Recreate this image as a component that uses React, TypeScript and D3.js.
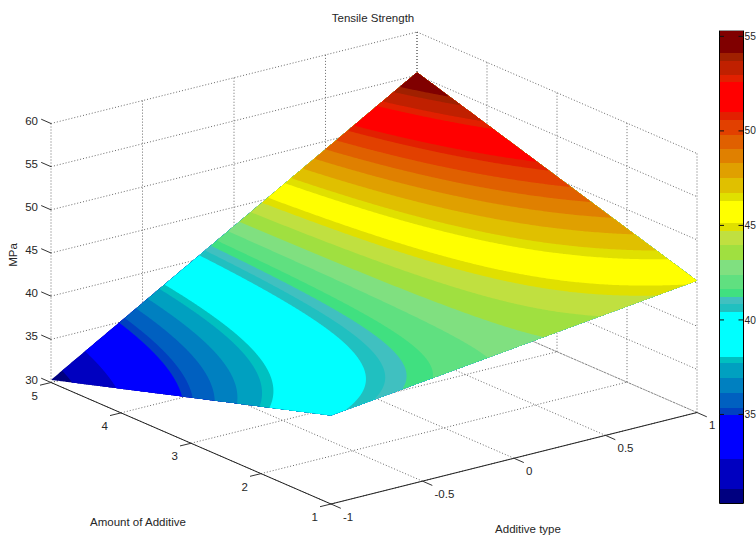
import React from 'react';
import * as d3 from 'd3';

const xTicks = [-1, -0.5, 0, 0.5, 1];
const yTicks = [1, 2, 3, 4, 5];
const zTicks = [30, 35, 40, 45, 50, 55, 60];
const barTicks = [35, 40, 45, 50, 55];

// MPa read at every tick crossing, one row per amount of additive (1..5)
const strengthAt1 = [40.25, 41.5, 42.76, 44.02, 45.27];
const strengthAt2 = [37.76, 40.27, 42.77, 45.28, 47.78];
const strengthAt3 = [35.28, 39.03, 42.79, 46.54, 50.3];
const strengthAt4 = [32.79, 37.8, 42.8, 47.81, 52.81];
const strengthAt5 = [30.3, 36.56, 42.81, 49.07, 55.32];
const strength = [strengthAt1, strengthAt2, strengthAt3, strengthAt4, strengthAt5];

// colorbar bands, low to high: bandEdges has one more entry than bandColors
const bandEdges = [
  30.3, 31.06, 32.63, 34.96, 35.34, 36.12, 36.91, 37.71, 38.06, 40.44, 40.83,
  41.22, 41.64, 42.4, 43.17, 43.95, 44.72, 45.13, 46.3, 46.72, 47.5, 48.3,
  49.06, 49.79, 50.58, 51.0, 52.58, 52.96, 53.72, 54.14, 55.3,
];
const bandColors = [
  '#000080', '#0000c0', '#0000ff', '#0040c0', '#0060c0', '#0080c0', '#00a0c0',
  '#00c0c0', '#00ffff', '#20c0c0', '#40c0c0', '#40e080', '#60e080', '#80e080',
  '#a0e040', '#c0e040', '#e0e000', '#ffff00', '#e0e000', '#e0c000', '#e0a000',
  '#e08000', '#e06000', '#e24000', '#e22000', '#ff0000', '#e22000', '#c02000',
  '#a02000', '#800000',
];

const W = 756;
const H = 536;
const FONT = '"Liberation Sans", Arial, sans-serif';
const TEXT = '#262626';

// oblique box: each axis is a screen offset from the (x=-1, y=1, z=30) corner
const origin = [331, 504];
const xOff = d3.scaleLinear<number[]>().domain([-1, 1]).range([[0, 0], [366, -91.5]]);
const yOff = d3.scaleLinear<number[]>().domain([1, 5]).range([[0, 0], [-280, -121.5]]);
const zOff = d3.scaleLinear().domain([30, 60]).range([0, -259]);

const project = (x: number, y: number, z: number) => {
  const a = xOff(x);
  const b = yOff(y);
  return [origin[0] + a[0] + b[0], origin[1] + a[1] + b[1] + zOff(z)];
};

const rowScales = strength.map((r) => d3.scaleLinear().domain(xTicks).range(r));
const valueAt = (x: number, y: number) =>
  d3.scaleLinear().domain(yTicks).range(rowScales.map((s) => s(x)))(y);

// raster for d3.contours, shading the surface between the table entries
const N = 240;
const toX = d3.scaleLinear().domain([0, N]).range([-1, 1]);
const toY = d3.scaleLinear().domain([0, N]).range([1, 5]);
const raster: number[] = [];
for (let j = 0; j < N; j++) {
  for (let i = 0; i < N; i++) raster.push(valueAt(toX(i + 0.5), toY(j + 0.5)));
}
const bands = d3.contours().size([N, N]).thresholds(bandEdges.slice(0, -1))(raster);

const surfacePath = d3.geoPath(
  d3.geoTransform({
    point(cx: number, cy: number) {
      const x = toX(cx);
      const y = toY(cy);
      const p = project(x, y, valueAt(x, y));
      this.stream.point(p[0], p[1]);
    },
  }),
);

const barY = d3.scaleLinear().domain([30.3, 55.3]).range([503.3, 30.7]);
const BAR_L = 719.5;
const BAR_R = 743.5;

const seg = (a: number[], b: number[]) => `M${a[0]},${a[1]}L${b[0]},${b[1]}`;

export default function App() {
  const grid: string[] = [];
  xTicks.forEach((x) => {
    grid.push(seg(project(x, 1, 30), project(x, 5, 30)));
    grid.push(seg(project(x, 5, 30), project(x, 5, 60)));
  });
  yTicks.forEach((y) => {
    grid.push(seg(project(-1, y, 30), project(1, y, 30)));
    grid.push(seg(project(1, y, 30), project(1, y, 60)));
  });
  zTicks.forEach((z) => {
    grid.push(seg(project(-1, 5, z), project(1, 5, z)));
    grid.push(seg(project(1, 5, z), project(1, 1, z)));
  });

  return (
    <svg
      width={W}
      height={H}
      viewBox={`0 0 ${W} ${H}`}
      style={{ position: 'fixed', left: 0, top: 0, background: '#fff' }}
      fontFamily={FONT}
      fontSize={11.5}
    >
      <path d={grid.join('')} fill="none" stroke="#444" strokeWidth={0.8} strokeDasharray="1,2" />

      {bands.map((b, i) => (
        <path key={i} d={surfacePath(b) || ''} fill={bandColors[i]} />
      ))}

      {/* axis lines */}
      <path
        d={seg(project(-1, 5, 30), project(-1, 1, 30)) + seg(project(-1, 1, 30), project(1, 1, 30))}
        fill="none"
        stroke="#222"
        strokeWidth={1}
      />

      {xTicks.map((x) => {
        const p = project(x, 1, 30);
        return (
          <g key={x}>
            <path d={seg(p, [p[0] + 9.8, p[1] + 4.3])} stroke="#333" fill="none" />
            <text x={p[0] + 12} y={p[1] + 12.5} dy="0.35em" fill={TEXT}>{x}</text>
          </g>
        );
      })}
      {yTicks.map((y) => {
        const p = project(-1, y, 30);
        return (
          <g key={y}>
            <path d={seg(p, [p[0] - 11, p[1] + 2.7])} stroke="#333" fill="none" />
            <text x={p[0] - 13} y={p[1] + 13} dy="0.35em" textAnchor="end" fill={TEXT}>{y}</text>
          </g>
        );
      })}
      {zTicks.map((z) => {
        const p = project(-1, 5, z);
        return (
          <g key={z}>
            <path d={seg(p, [p[0] - 9.8, p[1] - 4.3])} stroke="#333" fill="none" />
            <text x={p[0] - 13} y={p[1] - 3} dy="0.35em" textAnchor="end" fill={TEXT}>{z}</text>
          </g>
        );
      })}

      <text x={373} y={22} textAnchor="middle" fill={TEXT}>Tensile Strength</text>
      <text x={138} y={526} textAnchor="middle" fill={TEXT}>Amount of Additive</text>
      <text x={528} y={533} textAnchor="middle" fill={TEXT}>Additive type</text>
      <text transform="translate(17,255) rotate(-90)" textAnchor="middle" fill={TEXT}>MPa</text>

      {/* colorbar */}
      {bandColors.map((c, i) => (
        <rect
          key={i}
          x={BAR_L}
          width={BAR_R - BAR_L}
          y={barY(bandEdges[i + 1])}
          height={barY(bandEdges[i]) - barY(bandEdges[i + 1])}
          fill={c}
          shapeRendering="crispEdges"
        />
      ))}
      <path
        d={`M${BAR_L},30.5V503.5H${BAR_R}V30.5`}
        fill="none"
        stroke="#000"
        strokeWidth={1}
      />
      <path d={`M${BAR_L},30.5H${BAR_R}`} stroke="#999" strokeWidth={1} />
      {barTicks.map((v) => (
        <g key={v}>
          <path
            d={`M${BAR_L},${barY(v)}h4.5M${BAR_R},${barY(v)}h-5`}
            stroke="#111"
            fill="none"
          />
          {/* sized so the two digits just fit inside the window */}
          <text x={744.6} y={barY(v)} dy="0.35em" fontSize={10.2} fill={TEXT}>{v}</text>
        </g>
      ))}
    </svg>
  );
}
